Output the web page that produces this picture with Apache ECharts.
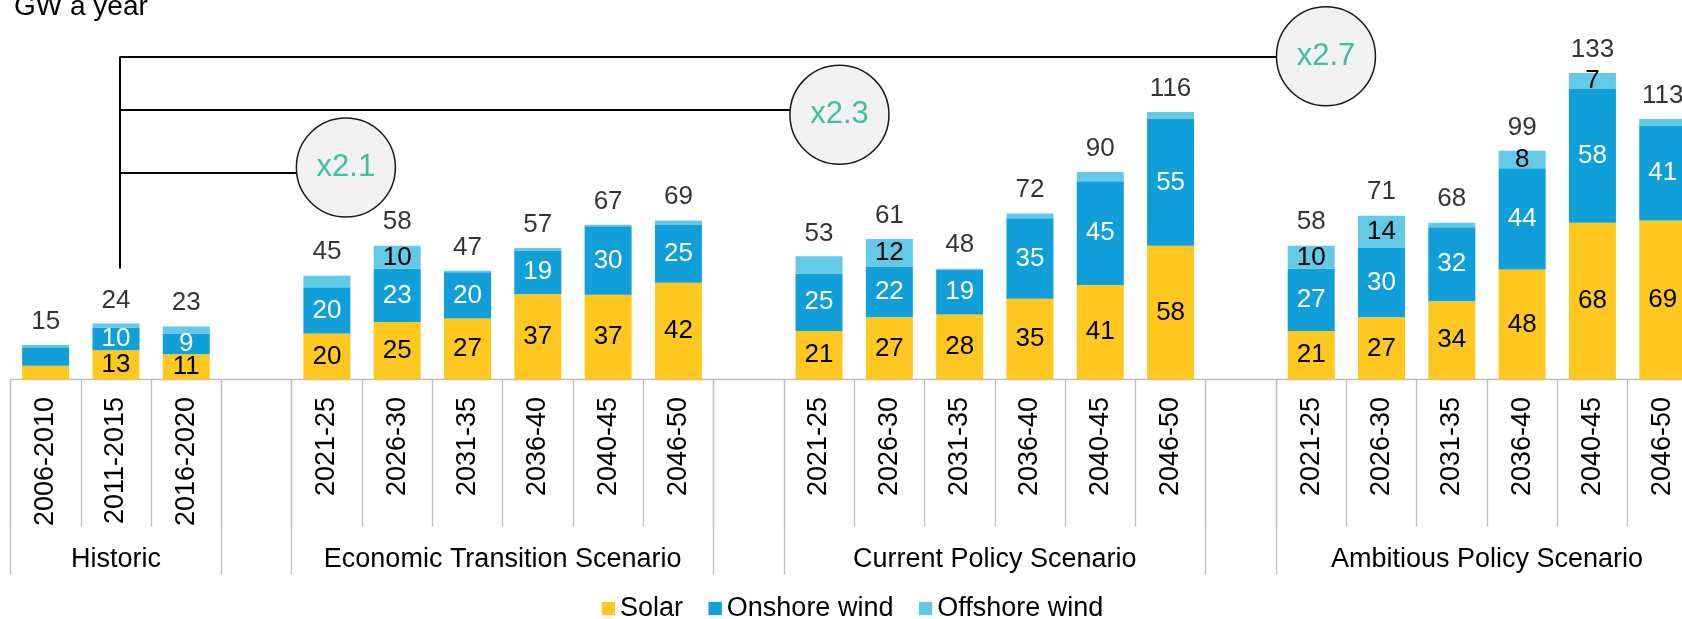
<!DOCTYPE html>
<html>
<head>
<meta charset="utf-8">
<script src="https://cdn.jsdelivr.net/npm/echarts@6/dist/echarts.min.js"></script>
<style>
html,body{margin:0;padding:0;background:#fff;}
#chart{width:1682px;height:619px;}
</style>
</head>
<body>
<div id="chart"></div>
<script>
// ---------- data ----------
const categories = [
  '2006-2010','2011-2015','2016-2020','',
  '2021-25','2026-30','2031-35','2036-40','2040-45','2046-50','',
  '2021-25','2026-30','2031-35','2036-40','2040-45','2046-50','',
  '2021-25','2026-30','2031-35','2036-40','2040-45','2046-50'
];
const groupNames = ['Historic','Economic Transition Scenario','Current Policy Scenario','Ambitious Policy Scenario'];
const groupSpans = [[0,3],[4,10],[11,17],[18,24]];   // slot ranges on the category axis

const solar    = [6, 12.7, 11, null, 20, 25, 26.5, 37, 36.8, 42, null, 21, 27, 28.2, 35, 41, 58, null, 21, 27, 34, 47.7, 68, 69];
const onshore  = [8, 9.8, 9, null, 20, 23, 20, 19, 29.7, 25, null, 25, 22, 19.4, 35, 45, 55, null, 27, 30, 32, 44, 58, 41];
const offshore = [1, 1.8, 3, null, 5, 10, 0.7, 1, 0.6, 2, null, 7.5, 12, 0.4, 2, 4, 3, null, 10, 14, 2, 7.5, 7, 3];
const totals   = [15, 24, 23, null, 45, 58, 47, 57, 67, 69, null, 53, 61, 48, 72, 90, 116, null, 58, 71, 68, 99, 133, 113];
const offshoreUnlabeled = [11];

const multiplierLabels = ['x2.1', 'x2.3', 'x2.7'];

// ---------- annotation placement (axis units: slot, GW) ----------
const bracket = { x: 1.555, bottom: 48.2 };
const multiplierPlaces = [
  { x: 4.77,  y: 92.0,  lineY: 89.9 },
  { x: 11.79, y: 114.9, lineY: 117.2 },
  { x: 18.71, y: 140.2, lineY: 140.0 }
];

// ---------- styles ----------
const FONT = "'Liberation Sans', Arial, Helvetica, sans-serif";
const C_SOLAR = '#FFC820', C_ON = '#119FDA', C_OFF = '#62C9E6';
const AXIS_GREY = '#BFBFBF';

function itemData(arr, minLabel, hidden) {
  return arr.map((v, i) => v == null ? null : {
    value: v,
    label: { show: v >= minLabel && !(hidden || []).includes(i) }
  });
}

const groupCenters = groupSpans.map(s => (s[0] + s[1]) / 2);
const groupBounds = [];
groupSpans.forEach(s => { groupBounds.push(s[0], s[1]); });

const barLabel = (color) => ({
  show: true, position: 'inside', color: color, fontSize: 26, fontFamily: FONT,
  formatter: p => Math.round(p.value)
});

const chart = echarts.init(document.getElementById('chart'), null, { renderer: 'canvas' });
chart.setOption({
  animation: false,
  backgroundColor: '#fff',
  textStyle: { fontFamily: FONT },
  title: {
    text: 'GW a year', left: 14, top: -6.5, padding: 0,
    textStyle: { fontSize: 28, fontWeight: 'normal', color: '#000', fontFamily: FONT }
  },
  legend: {
    data: ['Solar', 'Onshore wind', 'Offshore wind'],
    left: 601.7, top: 595, padding: 0,
    icon: 'rect', itemWidth: 13.3, itemHeight: 13.3, itemGap: 25.5,
    textStyle: { fontSize: 27, color: '#000', fontFamily: FONT }
  },
  grid: { left: 10.5, top: 10.7, width: 1687.4, height: 368.8, outerBoundsMode: 'none', containLabel: false },
  xAxis: [
    {
      type: 'category', data: categories, position: 'bottom',
      axisLine: { show: true, lineStyle: { color: AXIS_GREY, width: 1.3 } },
      axisTick: { show: true, interval: 0, length: 147, alignWithLabel: false, lineStyle: { color: AXIS_GREY, width: 1.3 } },
      axisLabel: { interval: 0, rotate: 90, margin: 17.5, fontSize: 27, color: '#000', fontFamily: FONT },
      splitLine: { show: false }
    },
    {
      type: 'value', min: 0, max: categories.length, position: 'bottom',
      axisLine: { show: false },
      axisTick: { show: true, customValues: groupBounds, length: 195, lineStyle: { color: AXIS_GREY, width: 1.3 } },
      axisLabel: {
        customValues: groupCenters, margin: 167, fontSize: 27, color: '#000', fontFamily: FONT,
        formatter: v => { const i = groupCenters.indexOf(v); return i >= 0 ? groupNames[i] : ''; }
      },
      splitLine: { show: false }
    }
  ],
  yAxis: { type: 'value', min: 0, max: 160, show: false, splitLine: { show: false } },
  series: [
    {
      name: 'Solar', type: 'bar', stack: 'total', barWidth: 47, xAxisIndex: 0,
      itemStyle: { color: C_SOLAR }, label: barLabel('#000'),
      data: itemData(solar, 9)
    },
    {
      name: 'Onshore wind', type: 'bar', stack: 'total', barWidth: 47, xAxisIndex: 0,
      itemStyle: { color: C_ON }, label: barLabel('#fff'),
      data: itemData(onshore, 9)
    },
    {
      name: 'Offshore wind', type: 'bar', stack: 'total', barWidth: 47, xAxisIndex: 0,
      itemStyle: { color: C_OFF }, label: barLabel('#000'),
      data: itemData(offshore, 7, offshoreUnlabeled)
    },
    {
      name: 'Total', type: 'scatter', xAxisIndex: 0, symbolSize: 0.1,
      itemStyle: { color: 'rgba(0,0,0,0)' },
      label: { show: true, position: 'top', distance: 10.5, fontSize: 26, color: '#000', fontFamily: FONT,
               formatter: p => p.value },
      data: totals, z: 3, silent: true
    },
    {
      name: 'Bracket', type: 'lines', coordinateSystem: 'cartesian2d', xAxisIndex: 1, yAxisIndex: 0,
      polyline: false, silent: true, z: 5,
      lineStyle: { color: '#000', width: 2, opacity: 1, curveness: 0 },
      data: [{ coords: [[bracket.x, bracket.bottom], [bracket.x, multiplierPlaces[2].lineY]] }]
        .concat(multiplierPlaces.map(m => ({ coords: [[bracket.x, m.lineY], [m.x, m.lineY]] })))
    },
    {
      name: 'Multiplier', type: 'scatter', xAxisIndex: 1, yAxisIndex: 0, symbol: 'circle', symbolSize: 99,
      silent: true, z: 6,
      itemStyle: { color: '#F2F2F2', borderColor: '#1A1A1A', borderWidth: 1.5, opacity: 1 },
      label: { show: true, position: 'inside', formatter: '{b}', fontSize: 31, color: '#3DBFA0', fontFamily: FONT },
      data: multiplierPlaces.map((m, i) => ({ name: multiplierLabels[i], value: [m.x, m.y] }))
    }
  ]
});
</script>
</body>
</html>
